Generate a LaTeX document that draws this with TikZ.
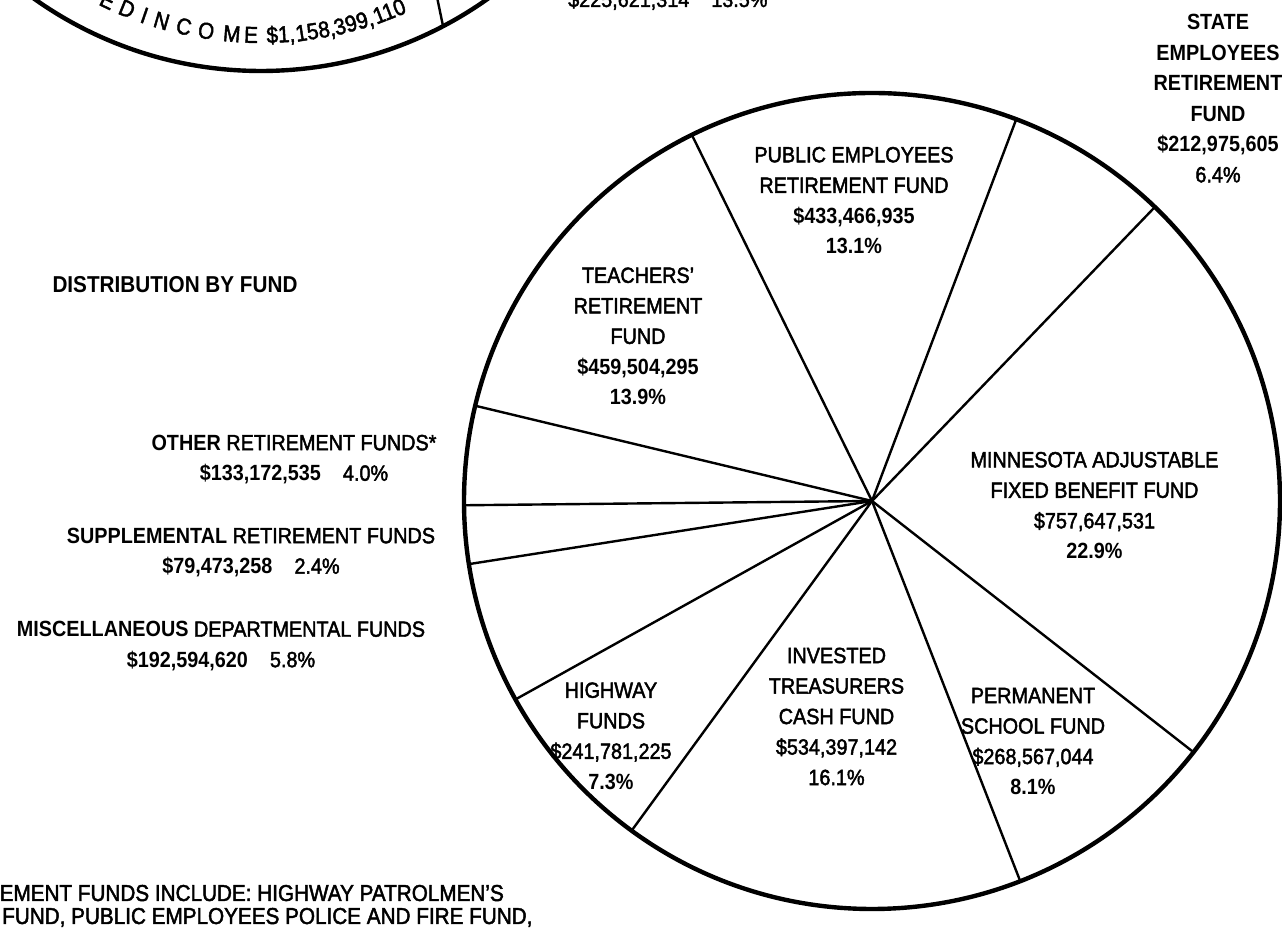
\documentclass[tikz,border=0pt]{standalone}
\usepackage{fontspec}
\setmainfont{Liberation Sans}[FakeStretch=0.9]
\newfontfamily\medfont{Liberation Sans}[FakeStretch=0.9,FakeBold=2]
\newcommand{\labfont}{\fontsize{22}{30.5}\selectfont}
\newcommand{\bd}[1]{{\normalfont\bfseries #1}}
\newcommand{\cm}{,}

\begin{document}
\begin{tikzpicture}[
  x=1pt, y=1pt,
  rim/.style={line width=4.4pt},
  spoke/.style={line width=2.4pt},
  fundlab/.style={align=center, inner sep=0pt, font=\labfont\medfont},
  sidelab/.style={align=center, inner sep=0pt, font=\labfont\medfont},
  notelab/.style={inner sep=0pt, font=\fontsize{23}{25}\selectfont\medfont},
  arcchar/.style={anchor=base, inner sep=0pt, font=\fontsize{23}{25}\selectfont\medfont},
  title/.style={inner sep=0pt, font=\fontsize{23}{25}\selectfont\bfseries},
]
\useasboundingbox (0,0) rectangle (1282,928);
\clip (0,0) rectangle (1282,928);
\fill[white] (0,0) rectangle (1282,928);

% ---- income circle, cut off by the page edge -----------------------------
\coordinate (uc) at (261,1249);
\draw[rim] (uc) circle (392);
\coordinate (utick) at (437,931);
\coordinate (urim) at (443,902);
\draw[spoke] (utick) -- (urim);
\foreach \a/\ch [count=\i] in {244.5/E, 247.9/D, 250.9/I, 253.8/N, 257.5/C,
    261.15/O, 265.3/M, 268.4/E}
  \node[arcchar, rotate=\a+90] (inc\i) at ([shift={(\a:364)}]uc) {\ch};
\foreach \a/\ch [count=\i] in {273.2/\$1\cm, 278.8/158\cm, 285.1/399\cm, 291.1/110}
  \node[arcchar, rotate=\a+90] (amt\i) at ([shift={(\a:364)}]uc) {\ch};
\node[fundlab, anchor=base west] (upcut) at (568,921)
  {\$225,621,314\hspace{22pt}13.5\%};

% ---- distribution pie ----------------------------------------------------
\coordinate (ctr) at (872,427);
\draw[rim] (ctr) circle (408);
\foreach \a [count=\i] in {116.2,69.3,46.1,-38.0,-68.7,233.9,209.1,188.9,180.6,166.5}{
  \coordinate (rim\i) at ([shift={(\a:408)}]ctr);
  \draw[spoke] (ctr) -- (rim\i);}

\node[title] (dist) at (175,643) {DISTRIBUTION BY FUND};

% ---- labels inside the pie -----------------------------------------------
\node[fundlab] (pub) at (854,727.5)
  {PUBLIC EMPLOYEES\\ RETIREMENT FUND\\ \bd{\$433,466,935}\\ \bd{13.1\%}};
\node[fundlab] (teach) at (638,591.7)
  {TEACHERS’\\ RETIREMENT\\ FUND\\ \bd{\$459,504,295}\\ \bd{13.9\%}};
\node[fundlab] (minn) at (1094.5,422.5)
  {MINNESOTA ADJUSTABLE\\ FIXED BENEFIT FUND\\ \$757,647,531\\ \bd{22.9\%}};
\node[fundlab] (invest) at (836.5,211.5)
  {INVESTED\\ TREASURERS\\ CASH FUND\\ \$534,397,142\\ 16.1\%};
\node[fundlab] (highway) at (611,192)
  {HIGHWAY\\ FUNDS\\ \$241,781,225\\ \bd{7.3\%}};
\node[fundlab] (perm) at (1033,186.6)
  {PERMANENT\\ SCHOOL FUND\\ \$268,567,044\\ \bd{8.1\%}};
\node[fundlab, font=\labfont\bfseries] (state) at (1218,829.5)
  {STATE\\ EMPLOYEES\\ RETIREMENT\\ FUND\\ \$212,975,605\\ {\medfont\mdseries 6.4\%}};

% ---- small funds, left of the pie ----------------------------------------
\node[sidelab] (other) at (294,468.5)
  {\bd{OTHER} RETIREMENT FUNDS*\\ \bd{\$133,172,535}\hspace{22pt}4.0\%};
\node[sidelab] (suppl) at (251,375.5)
  {\bd{SUPPLEMENTAL} RETIREMENT FUNDS\\ \bd{\$79,473,258}\hspace{22pt}2.4\%};
\node[sidelab] (misc) at (221,282)
  {\bd{MISCELLANEOUS} DEPARTMENTAL FUNDS\\ \bd{\$192,594,620}\hspace{22pt}5.8\%};

% ---- footnote ------------------------------------------------------------
\node[notelab, anchor=base east] (note1) at (504,27)
  {EMENT FUNDS INCLUDE: HIGHWAY PATROLMEN’S};
\node[notelab, anchor=base west] (note2) at (2,4)
  {FUND, PUBLIC EMPLOYEES POLICE AND FIRE FUND,};
\end{tikzpicture}
\end{document}
